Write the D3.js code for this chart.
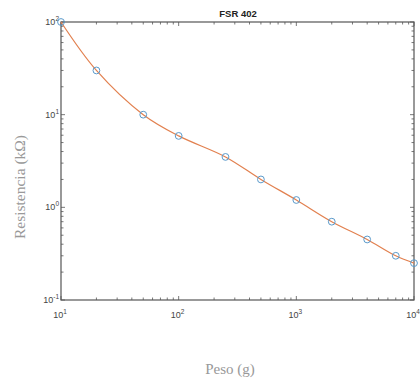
<!DOCTYPE html>
<html>
<head>
<meta charset="utf-8">
<script src="https://cdn.jsdelivr.net/npm/d3@7"></script>
<style>
  body { margin: 0; background: #fff; }
  svg { display: block; }
  .tick-label { font-family: "Liberation Sans", Arial, sans-serif; font-size: 9px; fill: #444; }
</style>
</head>
<body>
<div id="chart"></div>
<script>
const peso = [10, 20, 50, 100, 250, 500, 1000, 2000, 4000, 7000, 10000],
    resistencia = [100, 30, 10, 5.9, 3.5, 2, 1.2, 0.7, 0.45, 0.3, 0.25],
    xDecades = [10, 100, 1000, 10000],
    yDecades = [0.1, 1, 10, 100];

const width = 420, height = 383,
    margin = {top: 22, right: 6, bottom: 83, left: 61};

const svg = d3.select("#chart").append("svg")
    .attr("width", width)
    .attr("height", height);

const x = d3.scaleLog().domain([10, 10000]).range([margin.left, width - margin.right]),
    y = d3.scaleLog().domain([0.1, 100]).range([height - margin.bottom, margin.top]);

const axisColor = "#555";

// minor ticks for log axes
function logTicks(lo, hi) {
  const t = [];
  for (let d = lo; d < hi; d *= 10)
    for (let k = 1; k < 10; k++) t.push(d * k);
  t.push(hi);
  return t;
}

const g = svg.append("g");

// bottom / top axes with inward ticks
const xT = logTicks(10, 10000);
g.selectAll(".xtb").data(xT).enter().append("line")
    .attr("x1", d => x(d)).attr("x2", d => x(d))
    .attr("y1", y(0.1)).attr("y2", d => y(0.1) - (xDecades.includes(d) ? 4 : 2.5))
    .attr("stroke", axisColor).attr("stroke-width", 0.8);
g.selectAll(".xtt").data(xT).enter().append("line")
    .attr("x1", d => x(d)).attr("x2", d => x(d))
    .attr("y1", y(100)).attr("y2", d => y(100) + (xDecades.includes(d) ? 4 : 2.5))
    .attr("stroke", axisColor).attr("stroke-width", 0.8);

const yT = logTicks(0.1, 100);
g.selectAll(".ytl").data(yT).enter().append("line")
    .attr("y1", d => y(d)).attr("y2", d => y(d))
    .attr("x1", x(10)).attr("x2", d => x(10) + (yDecades.includes(d) ? 4 : 2.5))
    .attr("stroke", axisColor).attr("stroke-width", 0.8);
g.selectAll(".ytr").data(yT).enter().append("line")
    .attr("y1", d => y(d)).attr("y2", d => y(d))
    .attr("x1", x(10000)).attr("x2", d => x(10000) - (yDecades.includes(d) ? 4 : 2.5))
    .attr("stroke", axisColor).attr("stroke-width", 0.8);

// box
g.append("rect")
    .attr("x", x(10)).attr("y", y(100))
    .attr("width", x(10000) - x(10)).attr("height", y(0.1) - y(100))
    .attr("fill", "none").attr("stroke", axisColor).attr("stroke-width", 1.2);

// tick labels
function expLabel(sel, v) {
  const e = Math.round(Math.log10(v));
  sel.append("tspan").text("10");
  sel.append("tspan").attr("dy", -4).attr("font-size", "6.5px").text(e);
}
xDecades.forEach(v => {
  const t = svg.append("text").attr("class", "tick-label")
      .attr("x", x(v) - 1).attr("y", y(0.1) + 18).attr("text-anchor", "middle");
  expLabel(t, v);
});
yDecades.forEach(v => {
  const t = svg.append("text").attr("class", "tick-label")
      .attr("x", x(10) - 2).attr("y", y(v) + 3).attr("text-anchor", "end");
  expLabel(t, v);
});

// line
const data = peso.map((p, i) => ({p: p, r: resistencia[i]}));
svg.append("path")
    .datum(data)
    .attr("fill", "none")
    .attr("stroke", "#e2804f")
    .attr("stroke-width", 1.2)
    .attr("d", d3.line().curve(d3.curveCatmullRom.alpha(0.5)).x(d => x(d.p)).y(d => y(d.r)));

svg.selectAll(".pt").data(data).enter().append("circle")
    .attr("cx", d => x(d.p)).attr("cy", d => y(d.r)).attr("r", 3.4)
    .attr("fill", "none").attr("stroke", "#5a9acb").attr("stroke-width", 1);

// title
svg.append("text")
    .attr("x", 238).attr("y", 17)
    .attr("text-anchor", "middle")
    .style("font-family", "'Liberation Sans', Arial, sans-serif")
    .style("font-size", "9.5px").style("font-weight", "bold")
    .attr("fill", "#222")
    .text("FSR 402");

// axis labels
svg.append("text")
    .attr("x", 230).attr("y", 374)
    .attr("text-anchor", "middle")
    .style("font-family", "'Liberation Serif', 'Times New Roman', serif")
    .style("font-size", "15px")
    .attr("fill", "#999")
    .text("Peso (g)");

svg.append("text")
    .attr("transform", "translate(25,187) rotate(-90)")
    .attr("text-anchor", "middle")
    .style("font-family", "'Liberation Serif', 'Times New Roman', serif")
    .style("font-size", "15.5px")
    .attr("fill", "#999")
    .text("Resistencia (kΩ)");
</script>
</body>
</html>
